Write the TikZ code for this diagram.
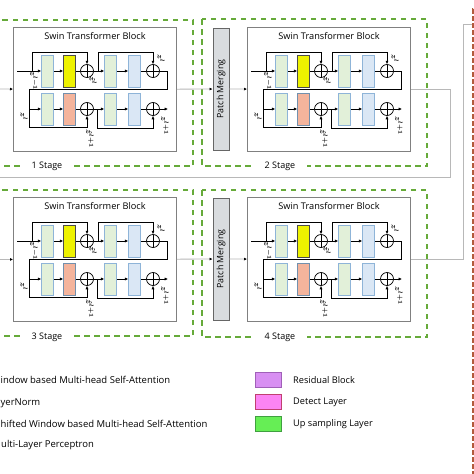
\documentclass[tikz,border=0pt]{standalone}
\usepackage{fontspec}
\setmainfont{Open Sans}
\usetikzlibrary{arrows.meta,calc}
\definecolor{dgreen}{HTML}{66AA3A}
\definecolor{reddash}{HTML}{B25A3C}
\definecolor{grayB}{HTML}{808080}
\definecolor{lgreen}{HTML}{E2F0D9}
\definecolor{lblue}{HTML}{DAE7F5}
\definecolor{edgeblue}{HTML}{8EB4D8}
\definecolor{yel}{HTML}{EEF200}
\definecolor{salm}{HTML}{F4B49C}
\definecolor{pmgray}{HTML}{D9DCDF}
\definecolor{linegray}{HTML}{B8B8B8}
\definecolor{resv}{HTML}{D88FF2}
\definecolor{resvb}{HTML}{A060B8}
\definecolor{detp}{HTML}{FC84F4}
\definecolor{detpb}{HTML}{C04070}
\definecolor{upg}{HTML}{66EE55}
\definecolor{upgb}{HTML}{40A040}
\tikzset{
  blk/.style={draw=grayB, line width=0.9, fill=white, inner sep=0},
  lay/.style={draw, minimum width=12, minimum height=32, inner sep=0, line width=0.6},
  lgb/.style={lay, fill=lgreen, draw=edgeblue},
  ylb/.style={lay, fill=yel, draw=black!70},
  slb/.style={lay, fill=salm, draw=edgeblue!80!black},
  lbb/.style={lay, fill=lblue, draw=edgeblue},
  addn/.style={circle, draw, line width=0.7, minimum size=13, inner sep=0,
    path picture={\draw[line width=0.7] (path picture bounding box.north) -- (path picture bounding box.south)
      (path picture bounding box.west) -- (path picture bounding box.east);}},
  arr/.style={-{Latex[length=3.4,width=3.2]}, line width=0.75},
  ln/.style={line width=0.75},
  zl/.style={font=\fontsize{8}{8}\selectfont\boldmath, rotate=-90, inner sep=0},
  stagebox/.style={draw=dgreen, line width=1.8, dash pattern=on 5.5 off 4.5},
  stagelbl/.style={fill=white, inner xsep=12, inner ysep=2, font=\fontsize{9}{10}\selectfont},
  pmbox/.style={draw=black!60, line width=0.9, fill=pmgray, minimum width=16, minimum height=122, inner sep=0},
  garr/.style={draw=linegray, line width=0.8, -{Latex[length=3,width=3,black]}},
  gln/.style={draw=linegray, line width=0.8},
  legtxt/.style={anchor=west, inner sep=0, font=\fontsize{9.5}{10}\selectfont},
  legtxtr/.style={anchor=west, inner sep=0, font=\fontsize{9.2}{10}\selectfont},
  legbox/.style={minimum width=26, minimum height=15, inner sep=0, line width=0.8},
}
\newcommand\swinblk[2]{%
\begin{scope}[shift={#2}, name prefix=#1-]
  \node[blk, minimum width=163, minimum height=124, anchor=north west] (box) at (0,0) {};
  \node[font=\fontsize{9.2}{10}\selectfont] (title) at (82,9) {Swin Transformer Block};
  % row 1
  \node[lgb] (g1) at (34.5,44) {};
  \node[ylb] (y1) at (56.5,44) {};
  \node[addn] (p1) at (74,44) {};
  \node[lgb] (g2) at (97.5,44) {};
  \node[lbb] (b1) at (121.5,44) {};
  \node[addn] (p2) at (140,44) {};
  % row 2
  \node[lgb] (g3) at (34.5,82) {};
  \node[slb] (s1) at (56.5,82) {};
  \node[addn] (p3) at (74,82) {};
  \node[lgb] (g4) at (97.5,82) {};
  \node[lbb] (b2) at (121.5,82) {};
  \node[addn] (p4) at (140,82) {};
  % helper coordinates
  \coordinate (in) at (4,44);
  \coordinate (k1) at (19,44);
  \coordinate (t1) at (74,25);
  \coordinate (k2) at (85,44);
  \coordinate (t2) at (140,25);
  \coordinate (r1) at (154,62);
  \coordinate (l1) at (16,62);
  \coordinate (t3) at (74,100);
  \coordinate (k4) at (84,82);
  \coordinate (t4) at (140,101);
  \coordinate (out) at (155,82);
  % row 1 connectors
  \draw[arr] (in) -- (g1);
  \draw[arr] (k1) |- (t1) -- (p1);
  \draw[arr] (g1) -- (y1);
  \draw[ln] (y1) -- (p1);
  \draw[arr] (p1) -- (g2);
  \draw[arr] (k2) |- (t2) -- (p2);
  \draw[arr] (g2) -- (b1);
  \draw[ln] (b1) -- (p2);
  \draw[arr] (p2) -| (r1) -- (l1) |- (g3);
  % row 2 connectors
  \draw[arr] (l1) |- (t3) -- (p3);
  \draw[arr] (g3) -- (s1);
  \draw[ln] (s1) -- (p3);
  \draw[arr] (p3) -- (g4);
  \draw[arr] (k4) |- (t4) -- (p4);
  \draw[arr] (g4) -- (b2);
  \draw[ln] (b2) -- (p4);
  \draw[arr] (p4) -- (out);
  % labels
  \node[zl] (zin) at (21,54) {$z^{l-1}$};
  \node[zl] (zh1) at (80,54) {$\hat{z}^{l}$};
  \node[zl] (zo1) at (148,32) {$z^{l}$};
  \node[zl] (zi2) at (11,90) {$z^{l}$};
  \node[zl] (zh2) at (77,112) {$\hat{z}^{l+1}$};
  \node[zl] (zo2) at (152,99) {$z^{l+1}$};
\end{scope}}
\begin{document}
\begin{tikzpicture}[x=1pt,y=-1pt]
\useasboundingbox (0,0) rectangle (474,474);
\clip (0,0) rectangle (474,474);
\fill[white] (0,0) rectangle (474,474);

% stage frames
\draw[stagebox] (-10,20) rectangle (193,166);
\draw[stagebox] (202,19) rectangle (427,166);
\draw[stagebox] (-10,190) rectangle (193,336);
\draw[stagebox] (202,190) rectangle (427,337);
\node[stagelbl] (st1) at (47,166) {1 Stage};
\node[stagelbl] (st2) at (280,166) {2 Stage};
\node[stagelbl] (st3) at (47,337) {3 Stage};
\node[stagelbl] (st4) at (280,337) {4 Stage};

% patch merging
\node[pmbox] (pm2) at (221,89) {};
\node[rotate=90, font=\fontsize{8.8}{10}\selectfont] (pm2t) at (pm2) {Patch Merging};
\node[pmbox] (pm4) at (221,259) {};
\node[rotate=90, font=\fontsize{8.8}{10}\selectfont] (pm4t) at (pm4) {Patch Merging};

% swin blocks
\swinblk{S1}{(13,27)}
\swinblk{S2}{(247,27)}
\swinblk{S3}{(13,197)}
\swinblk{S4}{(247,197)}

% stage connections
\coordinate (in0) at (-8,89);
\coordinate (c1) at (450,177);
\coordinate (c2) at (-8,177);
\coordinate (c3) at (463,24);
\coordinate (c4) at (473,24);
\draw[garr] (in0) -- (S1-box);
\draw[garr] (S1-box) -- (pm2);
\draw[garr] (pm2) -- (S2-box);
\draw[garr] (S2-box.east) -| (c1) -- (c2) |- (S3-box.west);
\draw[garr] (S3-box) -- (pm4);
\draw[garr] (pm4) -- (S4-box);
\draw[gln] (S4-box.east) -| (c3) -- (c4);

% red dashed frame edge
\coordinate (rd1) at (473,9);
\coordinate (rd2) at (473,478);
\coordinate (rd0) at (480,9);
\draw[draw=reddash, line width=2, dash pattern=on 4.5 off 2.5] (rd0) -- (rd1) -- (rd2);

% legend left (as cut by the picture's left edge)
\node[legtxt] (lw) at (0.5,380) {indow based Multi-head Self-Attention};
\node[legtxt] (ll) at (0.5,403) {yerNorm};
\node[legtxt] (ls) at (0.5,424) {hifted Window based Multi-head Self-Attention};
\node[legtxt] (lm) at (1,445) {ulti-Layer Perceptron};
% legend right
\node[legbox, fill=resv, draw=resvb] (rb) at (268,380) {};
\node[legbox, fill=detp, draw=detpb] (db) at (268,402) {};
\node[legbox, fill=upg, draw=upgb] (ub) at (268,424) {};
\node[legtxtr] (rbt) at (293,380) {Residual Block};
\node[legtxtr] (dbt) at (293,402) {Detect Layer};
\node[legtxtr] (ubt) at (293,424) {Up sampling Layer};
\end{tikzpicture}
\end{document}
